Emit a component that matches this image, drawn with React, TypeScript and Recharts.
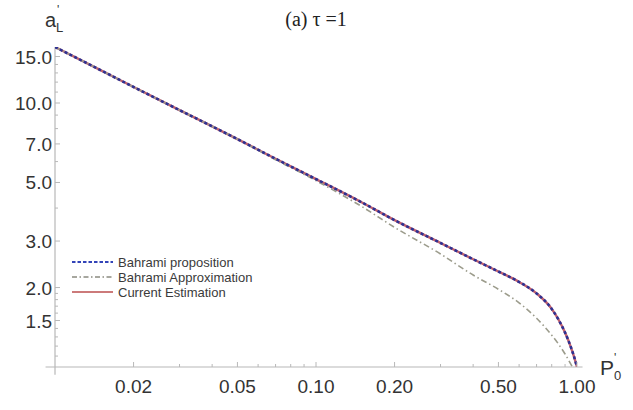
import React from "react";
import { LineChart, Line, XAxis, YAxis, ReferenceLine } from "recharts";

// P'_0 grid and a'_L values (log-log)
const propP = [0.01, 0.015, 0.02, 0.03, 0.05, 0.07, 0.1, 0.15, 0.2, 0.3, 0.4, 0.5, 0.6, 0.7, 0.8, 0.85, 0.9, 0.95, 0.97, 1.0];
const propA = [16.3, 13.3, 11.5, 9.4, 7.3, 6.15, 5.15, 4.2, 3.6, 2.95, 2.56, 2.3, 2.1, 1.9, 1.66, 1.51, 1.35, 1.18, 1.11, 1.0];

const approxP = [0.01, 0.015, 0.02, 0.03, 0.05, 0.07, 0.1, 0.15, 0.2, 0.3, 0.4, 0.5, 0.6, 0.7, 0.8, 0.85, 0.9, 0.96];
const approxA = [16.3, 13.3, 11.5, 9.4, 7.3, 6.1, 5.08, 4.05, 3.38, 2.68, 2.23, 1.97, 1.75, 1.53, 1.32, 1.22, 1.12, 1.0];

const estP = [0.01, 0.015, 0.02, 0.03, 0.05, 0.07, 0.1, 0.15, 0.2, 0.3, 0.4, 0.5, 0.6, 0.7, 0.8, 0.85, 0.9, 0.95, 0.97, 1.0];
const estA = [16.3, 13.3, 11.5, 9.4, 7.3, 6.15, 5.15, 4.2, 3.6, 2.95, 2.56, 2.3, 2.1, 1.9, 1.66, 1.51, 1.35, 1.18, 1.11, 1.0];

const xMajor = [0.02, 0.05, 0.1, 0.2, 0.5, 1];
const xMajorLabels = ["0.02", "0.05", "0.10", "0.20", "0.50", "1.00"];
const xMinor = [0.03, 0.04, 0.06, 0.07, 0.08, 0.09, 0.3, 0.4, 0.6, 0.7, 0.8, 0.9];

const yMajor = [1.5, 2, 3, 5, 7, 10, 15];
const yMajorLabels = ["1.5", "2.0", "3.0", "5.0", "7.0", "10.0", "15.0"];
const yMinor = [1.1, 1.2, 1.3, 1.4, 1.6, 1.7, 1.8, 1.9, 4, 6, 8, 9, 11, 12, 13, 14];

const propData = propP.map((p, i) => ({ p, a: propA[i] }));
const approxData = approxP.map((p, i) => ({ p, a: approxA[i] }));
const estData = estP.map((p, i) => ({ p, a: estA[i] }));

const AXIS = "#b8b8b8";
const LABEL = "#333";
const SANS = "'Liberation Sans', Arial, sans-serif";

const BLUE = "#2e3192";
const GRAY = "#9c9c8c";
const RED = "#c0606e";

const XTick = ({ x, y, payload }: any) => {
  const i = xMajor.indexOf(payload.value);
  const major = i >= 0;
  return (
    <g>
      <line x1={x} x2={x} y1={y} y2={y - (major ? 5 : 3)} stroke={AXIS} strokeWidth={1} />
      {major && (
        <text x={x} y={y + 26} textAnchor="middle" fill={LABEL} fontSize={19} fontFamily={SANS}>
          {xMajorLabels[i]}
        </text>
      )}
    </g>
  );
};

const YTick = ({ x, y, payload }: any) => {
  const i = yMajor.indexOf(payload.value);
  const major = i >= 0;
  return (
    <g>
      <line x1={x} x2={x + (major ? 5 : 3)} y1={y} y2={y} stroke={AXIS} strokeWidth={1} />
      {major && (
        <text x={x - 3} y={y + 7} textAnchor="end" fill={LABEL} fontSize={19} fontFamily={SANS}>
          {yMajorLabels[i]}
        </text>
      )}
    </g>
  );
};

const legendItems = [
  { name: "Bahrami proposition", color: "#3344b8", dash: "3.5 2", width: 2 },
  { name: "Bahrami Approximation", color: "#8a8a80", dash: "5 2.5 1.5 2.5", width: 1.3 },
  { name: "Current Estimation", color: "#cc7a7a", dash: undefined, width: 2 },
];

export default function App() {
  return (
    <div style={{ position: "absolute", left: 0, top: 0, width: 633, height: 410, background: "#fff" }}>
      <LineChart width={633} height={410} margin={{ top: 47, right: 56, bottom: 0, left: 0 }}>
        <XAxis
          dataKey="p"
          type="number"
          scale="log"
          domain={[0.01, 1]}
          allowDataOverflow
          ticks={[...xMajor, ...xMinor]}
          interval={0}
          tick={<XTick />}
          tickSize={0}
          tickMargin={0}
          tickLine={false}
          axisLine={false}
          height={43}
        />
        <YAxis
          dataKey="a"
          type="number"
          scale="log"
          domain={[1, 16.3]}
          allowDataOverflow
          ticks={[...yMajor, ...yMinor]}
          interval={0}
          tick={<YTick />}
          tickSize={0}
          tickMargin={0}
          tickLine={false}
          axisLine={false}
          width={55}
        />
        <ReferenceLine
          segment={[{ x: 0.0092, y: 1 }, { x: 1.05, y: 1 }]}
          stroke={AXIS}
          strokeWidth={1.2}
          ifOverflow="visible"
        />
        <ReferenceLine
          segment={[{ x: 0.01, y: 0.935 }, { x: 0.01, y: 16.3 }]}
          stroke={AXIS}
          strokeWidth={1.2}
          ifOverflow="visible"
        />
        <Line
          data={estData}
          dataKey="a"
          type="monotone"
          stroke={RED}
          strokeWidth={2.4}
          dot={false}
          isAnimationActive={false}
        />
        <Line
          data={approxData}
          dataKey="a"
          type="monotone"
          stroke={GRAY}
          strokeWidth={1.6}
          strokeDasharray="6 3 1.5 3"
          dot={false}
          isAnimationActive={false}
        />
        <Line
          data={propData}
          dataKey="a"
          type="monotone"
          stroke={BLUE}
          strokeWidth={2.6}
          strokeDasharray="3 2.4"
          dot={false}
          isAnimationActive={false}
        />
      </LineChart>

      {/* title, axis labels and legend */}
      <svg width={633} height={410} style={{ position: "absolute", left: 0, top: 0, pointerEvents: "none" }}>
        <text x={316} y={26} textAnchor="middle" fontSize={20} fontFamily="'Liberation Serif', 'Times New Roman', serif" fill="#222">
          (a) τ =1
        </text>
        <g fontFamily={SANS} fill={LABEL}>
          <text x={45} y={27} fontSize={20}>a</text>
          <text x={57} y={14} fontSize={12}>'</text>
          <text x={56} y={32} fontSize={13}>L</text>
          <text x={600} y={375} fontSize={21}>P</text>
          <text x={614} y={362} fontSize={12}>'</text>
          <text x={614} y={380} fontSize={13}>0</text>
        </g>
        {legendItems.map((it, i) => {
          const cy = 262 + i * 15;
          return (
            <g key={it.name}>
              <line x1={72} x2={113} y1={cy} y2={cy} stroke={it.color} strokeWidth={it.width} strokeDasharray={it.dash} />
              <text x={118} y={cy + 4.5} fontSize={13} fontFamily={SANS} fill="#3a3a3a">
                {it.name}
              </text>
            </g>
          );
        })}
      </svg>
    </div>
  );
}
